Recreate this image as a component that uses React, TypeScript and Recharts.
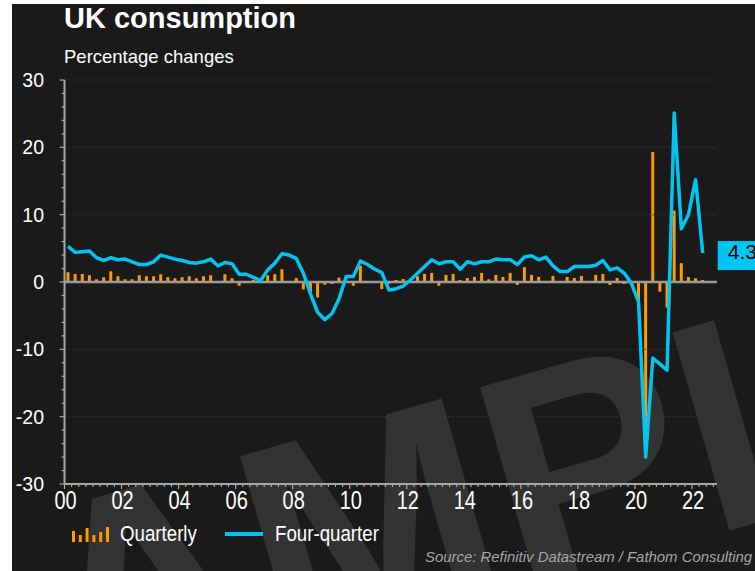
import React from 'react';
import { ComposedChart, Bar, Line, XAxis, YAxis, ReferenceLine, Legend, LabelList } from 'recharts';

const START_YEAR = 2000;

// Quarter-on-quarter % change, 2000Q1 .. 2022Q2
const quarterly = [
  1.45, 1.2, 1.2, 1.0,
  0.4, 0.7, 1.6, 0.85,
  0.4, 0.4, 1.0, 0.85,
  0.85, 1.15, 0.7, 0.55,
  0.7, 0.85, 0.55, 0.85,
  1.0, 0.05, 1.15, 0.55,
  -0.55, 0.05, 0.35, 0.05,
  1.0, 1.15, 1.9, 0.1,
  0.6, -1.1, -1.6, -2.3,
  -0.4, -0.3, 0.65, 0.2,
  -0.55, 2.4, 0.05, 0.05,
  -1.05, -0.25, 0.3, 0.45,
  0.1, 0.85, 1.2, 1.35,
  -0.55, 1.05, 1.2, 0.3,
  0.6, 0.75, 1.35, 0.4,
  1.05, 0.75, 1.35, -0.45,
  2.2, 1.05, 0.75, 0.1,
  0.9, 0.02, 0.75, 0.6,
  0.9, 0.15, 1.05, 1.2,
  -0.45, 0.6, -0.3, -0.4,
  -2.9, -24.0, 19.3, -1.45,
  -3.8, 10.6, 2.8, 0.75,
  0.55, 0.3,
];

// Four-quarter % change, 2000Q1 .. 2022Q2
const fourQuarter = [
  5.3, 4.4, 4.5, 4.6,
  3.6, 3.2, 3.6, 3.3,
  3.4, 3.0, 2.6, 2.6,
  3.0, 4.0, 3.7, 3.4,
  3.2, 2.9, 2.8, 3.0,
  3.4, 2.4, 2.9, 2.7,
  1.15, 1.15, 0.7, 0.2,
  1.8, 2.8, 4.2, 4.0,
  3.5, 1.3, -1.8, -4.5,
  -5.6, -4.7, -2.5, 0.8,
  0.8, 3.1, 2.6, 1.9,
  1.4, -1.2, -1.0, -0.6,
  0.3, 1.3, 2.3, 3.3,
  2.7, 3.0, 3.0, 1.9,
  3.0, 2.7, 3.0, 3.0,
  3.4, 3.3, 3.3, 2.6,
  3.7, 3.9, 3.3, 3.7,
  2.4, 1.55, 1.55, 2.3,
  2.3, 2.3, 2.5, 3.2,
  1.8, 2.1, 1.3, -0.2,
  -3.0, -26.0, -11.3, -12.2,
  -13.1, 25.1, 7.9, 10.0,
  15.2, 4.3,
];

const xTickLabels = ['00', '02', '04', '06', '08', '10', '12', '14', '16', '18', '20', '22'];
const yTickLabels = [30, 20, 10, 0, -10, -20, -30];
const gridValues = [30, 20, 10, -10, -20];

const X_END = 2022.875;
const xTicks: number[] = [];
for (let q = 0; q <= 91; q++) xTicks.push(START_YEAR + q / 4);
const yTicks: number[] = [];
for (let v = -30; v <= 30; v += 2) yTicks.push(v);

const data = quarterly.map((q, i) => ({
  t: START_YEAR + (i + 0.5) / 4,
  quarterly: q,
  fourQuarter: fourQuarter[i],
}));

const ORANGE = '#FF9A00';
const CYAN = '#00C5F2';
const BG = '#1a1a1a';
const AXIS = '#a8a8a8';
const SANS = "'Liberation Sans', Arial, sans-serif";

const XTick = (props: any) => {
  const { x, y, payload } = props;
  const v = payload.value as number;
  const rel = Math.round((v - START_YEAR) * 4);
  const major = rel % 8 === 0;
  const label = major ? xTickLabels[rel / 8] : null;
  return (
    <g>
      <line x1={x} x2={x} y1={y} y2={y + (major ? 5 : 3)} stroke={AXIS} strokeWidth={1.2} />
      {label && (
        <text
          transform={`translate(${x + 1},${y + 25}) scale(0.8,1)`}
          textAnchor="middle"
          fill="#fff"
          fontSize={25}
          fontFamily={SANS}
        >
          {label}
        </text>
      )}
    </g>
  );
};

const YTick = (props: any) => {
  const { x, y, payload } = props;
  const v = payload.value as number;
  const major = yTickLabels.indexOf(v) >= 0;
  return (
    <g>
      <line x1={x - (major ? 5 : 3)} x2={x} y1={y} y2={y} stroke={AXIS} strokeWidth={1.2} />
      {major && (
        <text x={44} y={y + 7} textAnchor="end" fill="#fff" fontSize={19.5} fontFamily={SANS}>
          {v}
        </text>
      )}
    </g>
  );
};

const EndLabel = (props: any) => {
  const { x, y, index, value } = props;
  if (index !== fourQuarter.length - 1) return null;
  return (
    <g>
      <rect x={x + 15} y={y - 12} width={60} height={29} fill={CYAN} />
      <text x={x + 25} y={y + 5.5} fill="#000" fontSize={21} fontFamily={SANS}>
        {value}
      </text>
    </g>
  );
};

const iconBars = [11, 7, 14, 7, 10, 15];

const renderLegend = () => (
  <svg width={420} height={27} style={{ display: 'block', overflow: 'visible' }}>
    {iconBars.map((h, i) => (
      <rect key={i} x={i * 6.8} y={21 - h} width={3} height={h} fill={ORANGE} />
    ))}
    <text transform="translate(48,20) scale(0.85,1)" fill="#fff" fontSize={22} fontFamily={SANS}>
      Quarterly
    </text>
    <line x1={153} x2={191} y1={13} y2={13} stroke={CYAN} strokeWidth={4} />
    <text transform="translate(203,20) scale(0.85,1)" fill="#fff" fontSize={22} fontFamily={SANS}>
      Four-quarter
    </text>
  </svg>
);

export default function App() {
  return (
    <div style={{ position: 'absolute', left: 0, top: 0, width: 755, height: 571, background: '#ffffff', overflow: 'hidden' }}>
      <div style={{ position: 'absolute', left: 12, top: 4, width: 743, height: 567, background: BG }} />
      <svg width={755} height={571} style={{ position: 'absolute', left: 0, top: 0 }}>
        <defs>
          <clipPath id="wm">
            <rect x={12} y={4} width={743} height={567} />
          </clipPath>
        </defs>
        <g clipPath="url(#wm)">
          <text
            transform="translate(-123,775) rotate(-16)"
            x={0}
            y={0}
            fontSize={300}
            fontWeight="bold"
            fontFamily={SANS}
            fill="#333333"
          >
            SAMPLE
          </text>
        </g>
      </svg>
      <div style={{ position: 'absolute', left: 64, top: 0, color: '#fff', fontFamily: SANS, fontWeight: 'bold', fontSize: 29, lineHeight: '36px', whiteSpace: 'nowrap' }}>
        UK consumption
      </div>
      <div style={{ position: 'absolute', left: 64, top: 46, color: '#fff', fontFamily: SANS, fontSize: 18.5, lineHeight: '22px', whiteSpace: 'nowrap' }}>
        Percentage changes
      </div>
      <div style={{ position: 'absolute', left: 0, top: 0 }}>
        <ComposedChart
          width={755}
          height={571}
          data={data}
          margin={{ top: 80, right: 38, bottom: 20, left: 0 }}
        >
          {gridValues.map((g) => (
            <ReferenceLine key={g} y={g} stroke="#3c3c3c" strokeDasharray="1.5 2.5" strokeWidth={1} />
          ))}
          <XAxis
            type="number"
            dataKey="t"
            domain={[START_YEAR, X_END]}
            ticks={xTicks}
            interval={0}
            tick={<XTick />}
            tickLine={false}
            tickSize={0}
            tickMargin={0}
            axisLine={{ stroke: AXIS, strokeWidth: 2 }}
            height={40}
            allowDataOverflow
          />
          <YAxis
            type="number"
            domain={[-30, 30]}
            ticks={yTicks}
            interval={0}
            tick={<YTick />}
            tickLine={false}
            tickSize={0}
            tickMargin={0}
            axisLine={{ stroke: AXIS, strokeWidth: 2 }}
            width={64.5}
          />
          <ReferenceLine y={0} stroke="#9a9a9a" strokeWidth={2.5} />
          <Bar dataKey="quarterly" name="Quarterly" fill={ORANGE} barSize={3} isAnimationActive={false} />
          <Line
            dataKey="fourQuarter"
            name="Four-quarter"
            type="linear"
            stroke={CYAN}
            strokeWidth={3.5}
            strokeLinejoin="round"
            dot={false}
            activeDot={false}
            isAnimationActive={false}
          >
            <LabelList dataKey="fourQuarter" content={<EndLabel />} />
          </Line>
          <Legend content={renderLegend} wrapperStyle={{ left: 72, top: 521, width: 420, height: 27 }} />
        </ComposedChart>
      </div>
      <div style={{ position: 'absolute', right: 3, top: 548, color: '#a6a6a6', fontFamily: SANS, fontStyle: 'italic', fontSize: 14.9, lineHeight: '18px', whiteSpace: 'nowrap' }}>
        Source: Refinitiv Datastream / Fathom Consulting
      </div>
    </div>
  );
}
